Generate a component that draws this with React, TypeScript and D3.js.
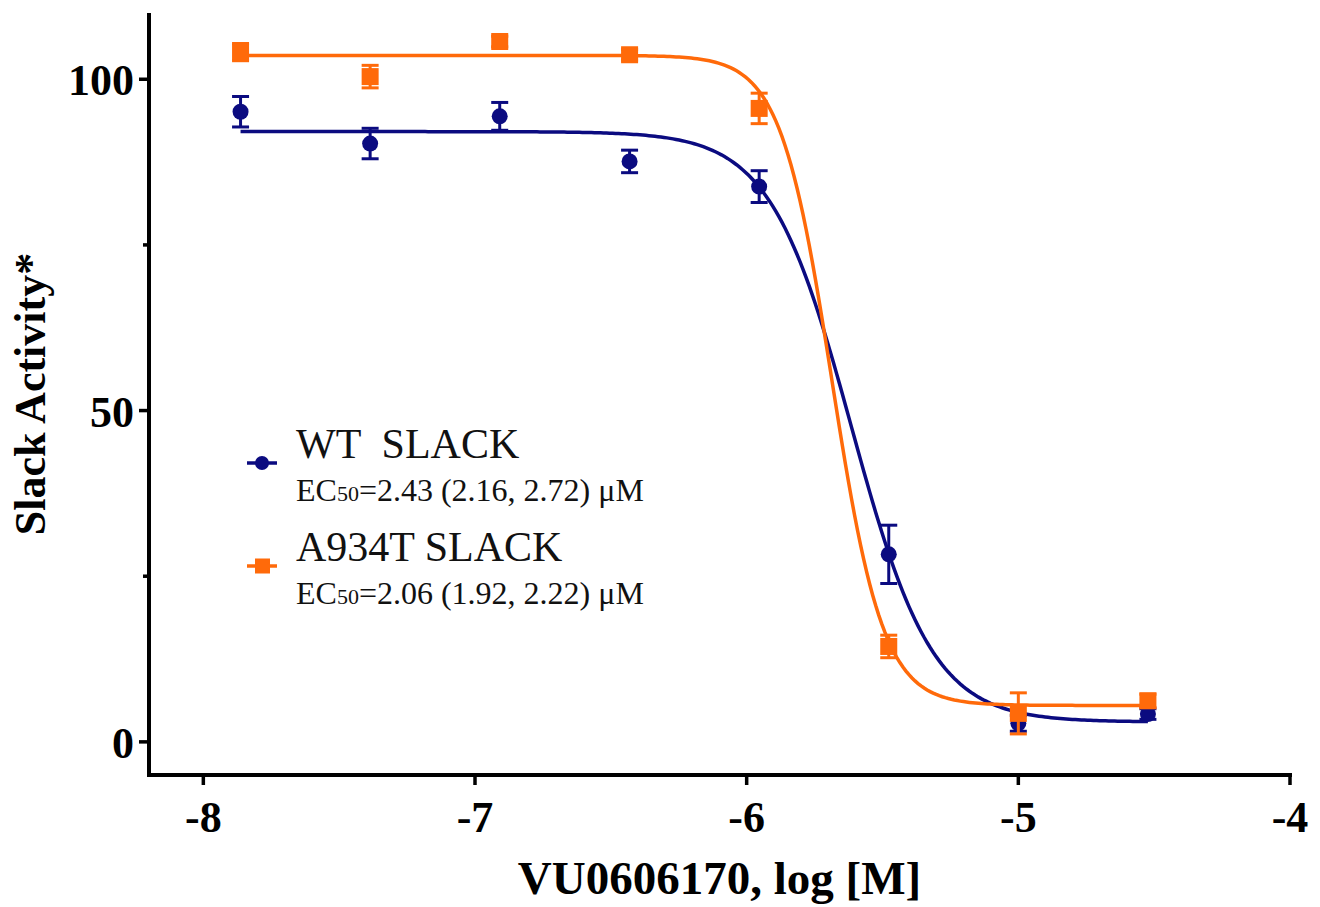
import React from "react";
import * as d3 from "d3";

// Compound concentrations, log10 [M] (3-fold dilutions from 30 µM)
const logConc = [-7.863, -7.386, -6.909, -6.431, -5.954, -5.477, -5.0, -4.523];

// WT SLACK: normalised activity (%) and SEM
const wtMean = [95.1, 90.3, 94.4, 87.6, 83.8, 28.3, 2.8, 4.2];
const wtSem = [2.3, 2.3, 2.1, 1.7, 2.4, 4.4, 1.2, 0.8];

// A934T SLACK: normalised activity (%) and SEM
const mutMean = [104.1, 100.4, 105.7, 103.7, 95.6, 14.4, 4.3, 6.2];
const mutSem = [1.3, 1.7, 0.8, 0.8, 2.3, 1.7, 3.1, 1.0];

// Four-parameter logistic curves (EC50 in µM)
const wtFit = { top: 92.1, bottom: 3.0, ec50: 2.43, hill: 2.9 };
const mutFit = { top: 103.6, bottom: 5.5, ec50: 2.06, hill: 4.6 };

const xTicks = [-8, -7, -6, -5, -4];
const yMajorTicks = [0, 50, 100];
const yMinorTicks = [25, 75];

const legendItems = [
  { name: "WT  SLACK", ec: "=2.43 (2.16, 2.72) μM", shape: "circle" },
  { name: "A934T SLACK", ec: "=2.06 (1.92, 2.22) μM", shape: "square" },
];

const NAVY = "#0b0b80";
const ORANGE = "#ff6a0a";
const FONT = "'Liberation Serif', 'Times New Roman', serif";

const W = 1320;
const H = 907;

const x = d3.scaleLinear().domain([-8.2, -4]).range([149, 1290]);
const y = d3.scaleLinear().domain([-5, 110]).range([775, 13]);

type Fit = { top: number; bottom: number; ec50: number; hill: number };

function logistic(f: Fit, lx: number) {
  const logEc = Math.log10(f.ec50 * 1e-6);
  return f.bottom + (f.top - f.bottom) / (1 + Math.pow(10, (lx - logEc) * f.hill));
}

function fitPath(f: Fit) {
  const lo = logConc[0];
  const hi = logConc[logConc.length - 1];
  const pts = d3.range(0, 301).map((i) => lo + ((hi - lo) * i) / 300);
  const line = d3
    .line<number>()
    .x((d) => x(d))
    .y((d) => y(logistic(f, d)));
  return line(pts) || "";
}

function ErrorBars({ means, sems, color }: { means: number[]; sems: number[]; color: string }) {
  const cap = 8.5;
  return (
    <g stroke={color} strokeWidth={3} fill="none">
      {means.map((m, i) => {
        const cx = x(logConc[i]);
        const y0 = y(m - sems[i]);
        const y1 = y(m + sems[i]);
        return (
          <g key={i}>
            <line x1={cx} x2={cx} y1={y0} y2={y1} />
            <line x1={cx - cap} x2={cx + cap} y1={y0} y2={y0} />
            <line x1={cx - cap} x2={cx + cap} y1={y1} y2={y1} />
          </g>
        );
      })}
    </g>
  );
}

export default function App() {
  const yAxisTop = y(110);
  const xAxisY = y(-5);
  const legendX = 247;
  const legendRows = [463, 566];

  return (
    <svg
      width={W}
      height={H}
      viewBox={`0 0 ${W} ${H}`}
      style={{ position: "absolute", left: 0, top: 0, display: "block", background: "#fff" }}
    >
      {/* WT series */}
      <path d={fitPath(wtFit)} fill="none" stroke={NAVY} strokeWidth={3.5} />
      <ErrorBars means={wtMean} sems={wtSem} color={NAVY} />
      {wtMean.map((m, i) => (
        <circle key={i} cx={x(logConc[i])} cy={y(m)} r={8} fill={NAVY} />
      ))}

      {/* A934T series */}
      <path d={fitPath(mutFit)} fill="none" stroke={ORANGE} strokeWidth={3.5} />
      <ErrorBars means={mutMean} sems={mutSem} color={ORANGE} />
      {mutMean.map((m, i) => (
        <rect key={i} x={x(logConc[i]) - 8.5} y={y(m) - 8.5} width={17} height={17} fill={ORANGE} />
      ))}

      {/* Axes */}
      <g stroke="#000" strokeWidth={4} fill="none">
        <line x1={x(-8.2)} x2={x(-8.2)} y1={yAxisTop} y2={xAxisY + 2} />
        <line x1={x(-8.2) - 2} x2={x(-4) + 2} y1={xAxisY} y2={xAxisY} />
        {xTicks.map((t) => (
          <line key={t} x1={x(t)} x2={x(t)} y1={xAxisY} y2={xAxisY + 10} strokeWidth={3.5} />
        ))}
        {yMajorTicks.map((t) => (
          <line key={t} x1={x(-8.2) - 10} x2={x(-8.2)} y1={y(t)} y2={y(t)} strokeWidth={3.5} />
        ))}
        {yMinorTicks.map((t) => (
          <line key={t} x1={x(-8.2) - 6} x2={x(-8.2)} y1={y(t)} y2={y(t)} strokeWidth={3.5} />
        ))}
      </g>

      <g fontFamily={FONT} fontWeight="bold" fill="#000">
        {xTicks.map((t) => (
          <text key={t} x={x(t)} y={832} fontSize={44} textAnchor="middle">
            {t}
          </text>
        ))}
        {yMajorTicks.map((t) => (
          <text key={t} x={134} y={y(t) + 16} fontSize={44} textAnchor="end">
            {t}
          </text>
        ))}
        <text x={(x(-8.2) + x(-4)) / 2} y={894} fontSize={47} textAnchor="middle">
          VU0606170, log [M]
        </text>
        <text
          transform={`translate(45, ${(yAxisTop + xAxisY) / 2}) rotate(-90)`}
          fontSize={44}
          textAnchor="middle"
        >
          Slack Activity*
        </text>
      </g>

      {/* Legend */}
      <g fontFamily={FONT} fill="#111">
        {legendItems.map((item, i) => {
          const cy = legendRows[i];
          const color = i === 0 ? NAVY : ORANGE;
          return (
            <g key={item.name}>
              <line x1={legendX} x2={legendX + 30} y1={cy} y2={cy} stroke={color} strokeWidth={3.5} />
              {item.shape === "circle" ? (
                <circle cx={legendX + 15} cy={cy} r={7} fill={color} />
              ) : (
                <rect x={legendX + 8} y={cy - 7.5} width={15} height={15} fill={color} />
              )}
              <text x={296} y={cy - 5} fontSize={42} style={{ whiteSpace: "pre" }}>
                {item.name}
              </text>
              <text x={296} y={cy + 38} fontSize={32}>
                EC<tspan fontSize={22}>50</tspan>
                {item.ec}
              </text>
            </g>
          );
        })}
      </g>
    </svg>
  );
}
